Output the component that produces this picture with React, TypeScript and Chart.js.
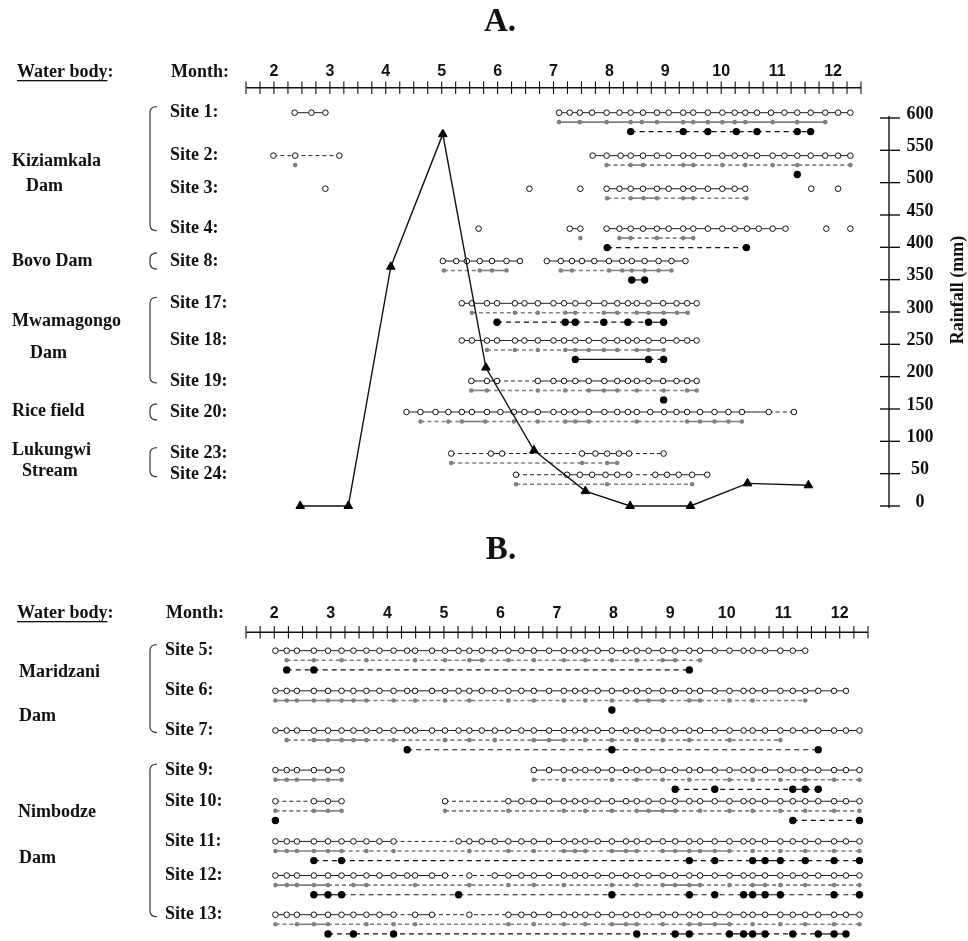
import { useEffect, useRef } from 'react';
import { Chart, registerables } from 'chart.js';

Chart.register(...registerables);

// ---------------- data ----------------
const MONTH_LABELS = [2, 3, 4, 5, 6, 7, 8, 9, 10, 11, 12];
const RAIN_TICKS = [0, 50, 100, 150, 200, 250, 300, 350, 400, 450, 500, 550, 600];
const RAIN_MONTH = [2.47, 3.33, 4.09, 5.02, 5.79, 6.65, 7.57, 8.37, 9.45, 10.47, 11.56];
const RAIN_MM = [0, 0, 370, 575, 214, 86, 23, 0, 0, 35, 32];

const A_SITE_LABELS = ['Site 1:', 'Site 2:', 'Site 3:', 'Site 4:', 'Site 8:', 'Site 17:', 'Site 18:', 'Site 19:', 'Site 20:', 'Site 23:', 'Site 24:'];
const B_SITE_LABELS = ['Site 5:', 'Site 6:', 'Site 7:', 'Site 9:', 'Site 10:', 'Site 11:', 'Site 12:', 'Site 13:'];

// links: one char per connection between consecutive points: s = solid, d = dashed, _ = none (missing = solid)
const A_SITE_1 = {
  open: { x: [2.37, 2.67, 2.92, 7.10, 7.29, 7.47, 7.69, 7.95, 8.18, 8.38, 8.60, 8.85, 9.06, 9.32, 9.50, 9.76, 10.02, 10.24, 10.43, 10.64, 10.89, 11.13, 11.36, 11.60, 11.86, 12.09, 12.31], links: 'ss_' },
  grey: { x: [7.10, 7.47, 7.95, 8.38, 8.58, 8.85, 9.32, 9.50, 9.76, 10.02, 10.24, 10.43, 10.92, 11.36, 11.86], links: '' },
  black: { x: [8.38, 9.32, 9.76, 10.27, 10.64, 11.36, 11.60], links: 'dddddd' },
};
const A_SITE_2 = {
  open: { x: [1.99, 2.38, 3.17, 7.70, 7.95, 8.20, 8.38, 8.60, 8.85, 9.06, 9.32, 9.50, 9.76, 10.02, 10.24, 10.43, 10.64, 10.92, 11.13, 11.36, 11.60, 11.86, 12.09, 12.31], links: 'dd_' },
  grey: { x: [2.38, 7.95, 8.38, 8.60, 9.32, 9.50, 10.02, 10.43, 10.92, 11.36, 12.31], links: '_dsdsddddd' },
  black: { x: [11.36], links: '' },
};
const A_SITE_3 = {
  open: { x: [2.92, 6.57, 7.48, 7.95, 8.18, 8.38, 8.60, 8.85, 9.06, 9.32, 9.50, 9.76, 10.02, 10.24, 10.43, 11.61, 12.09], links: '___sssssssssss__' },
  grey: { x: [7.96, 8.38, 8.61, 8.85, 9.32, 9.50, 10.45], links: 'dssdsd' },
  black: { x: [], links: '' },
};
const A_SITE_4 = {
  open: { x: [5.66, 7.29, 7.48, 7.95, 8.18, 8.38, 8.60, 8.85, 9.06, 9.32, 9.50, 9.76, 10.02, 10.24, 10.46, 10.67, 10.92, 11.15, 11.88, 12.31], links: '_s_ssssssssssssss__' },
  grey: { x: [7.48, 8.18, 8.38, 8.85, 9.32, 9.50], links: '_sdds' },
  black: { x: [7.96, 10.45], links: 'd' },
};
const A_SITE_8 = {
  open: { x: [5.02, 5.26, 5.45, 5.68, 5.90, 6.16, 6.40, 6.88, 7.13, 7.33, 7.51, 7.73, 7.99, 8.23, 8.40, 8.63, 8.88, 9.11, 9.36], links: 'ssssss_' },
  grey: { x: [5.04, 5.68, 5.90, 6.16, 7.13, 7.33, 7.99, 8.23, 8.40, 8.63, 8.88, 9.11], links: 'dss_sd' },
  black: { x: [8.40, 8.63], links: 's' },
};
const A_SITE_17 = {
  open: { x: [5.36, 5.54, 5.81, 5.99, 6.31, 6.48, 6.72, 7.00, 7.19, 7.39, 7.63, 7.91, 8.14, 8.33, 8.49, 8.70, 8.96, 9.20, 9.39, 9.56], links: '' },
  grey: { x: [5.54, 6.31, 6.72, 7.21, 7.39, 7.90, 8.14, 8.49, 8.70, 8.97, 9.21, 9.40], links: 'dddsdsdssss' },
  black: { x: [5.99, 7.21, 7.39, 7.90, 8.33, 8.70, 8.97], links: 'dsddds' },
};
const A_SITE_18 = {
  open: { x: [5.36, 5.54, 5.81, 5.99, 6.31, 6.48, 6.72, 7.00, 7.19, 7.39, 7.63, 7.91, 8.14, 8.33, 8.49, 8.70, 8.96, 9.20, 9.39, 9.56], links: '' },
  grey: { x: [5.81, 6.31, 6.72, 7.21, 7.39, 7.63, 7.90, 8.14, 8.49, 8.70, 8.97], links: 'dddssssdss' },
  black: { x: [7.39, 8.70, 8.97], links: 'sd' },
};
const A_SITE_19 = {
  open: { x: [5.53, 5.81, 5.99, 6.72, 7.00, 7.19, 7.39, 7.63, 7.91, 8.14, 8.33, 8.49, 8.70, 8.96, 9.20, 9.39, 9.56], links: 'ssd' },
  grey: { x: [5.53, 5.81, 6.72, 7.21, 7.63, 7.90, 8.14, 8.49, 8.97, 9.39, 9.56], links: 'sdddssddds' },
  black: { x: [8.97], links: '' },
};
const A_SITE_20 = {
  open: { x: [4.37, 4.62, 4.89, 5.12, 5.36, 5.54, 5.81, 6.05, 6.29, 6.48, 6.72, 7.00, 7.19, 7.39, 7.63, 7.91, 8.14, 8.33, 8.49, 8.73, 8.98, 9.20, 9.39, 9.62, 9.88, 10.13, 10.37, 10.85, 11.30], links: 'sssssssss' + 'sssssssss' + 'sssssssss' + 'd' },
  grey: { x: [4.62, 5.12, 5.36, 5.78, 6.29, 6.72, 7.21, 7.39, 7.63, 8.49, 9.39, 9.62, 9.88, 10.13, 10.37], links: 'ddsdddssddssss' },
  black: { x: [], links: '' },
};
const A_SITE_23 = {
  open: { x: [5.17, 5.88, 6.08, 7.51, 7.75, 7.96, 8.17, 8.35, 8.97], links: 'dsdssssd' },
  grey: { x: [5.17, 7.51, 7.96, 8.14], links: 'dds' },
  black: { x: [], links: '' },
};
const A_SITE_24 = {
  open: { x: [6.33, 7.24, 7.47, 7.69, 7.93, 8.14, 8.35, 8.82, 9.03, 9.24, 9.48, 9.75], links: 'dsssssdssss' },
  grey: { x: [6.33, 7.96, 9.48], links: 'dd' },
  black: { x: [], links: '' },
};

const B_SITE_5 = {
  open: { x: [2.02, 2.22, 2.40, 2.70, 2.95, 3.19, 3.40, 3.63, 3.86, 4.11, 4.35, 4.49, 4.79, 5.02, 5.26, 5.45, 5.67, 5.90, 6.14, 6.37, 6.59, 6.86, 7.12, 7.32, 7.50, 7.72, 7.97, 8.22, 8.41, 8.62, 8.87, 9.09, 9.34, 9.53, 9.79, 10.05, 10.30, 10.46, 10.68, 10.95, 11.17, 11.39], links: '' },
  grey: { x: [2.22, 2.70, 3.19, 3.63, 4.49, 5.02, 5.45, 5.67, 6.14, 6.59, 7.12, 7.50, 7.97, 8.41, 8.87, 9.09, 9.53], links: 'ddddddsdddddddsd' },
  black: { x: [2.22, 2.70, 9.34], links: 'dd' },
};
const B_SITE_6 = {
  open: { x: [2.02, 2.22, 2.40, 2.70, 2.95, 3.19, 3.40, 3.63, 3.86, 4.11, 4.35, 4.49, 4.79, 5.02, 5.26, 5.45, 5.67, 5.90, 6.14, 6.37, 6.59, 6.86, 7.12, 7.32, 7.50, 7.72, 7.97, 8.22, 8.41, 8.62, 8.87, 9.09, 9.34, 9.53, 9.79, 10.05, 10.30, 10.46, 10.68, 10.95, 11.17, 11.39, 11.62, 11.90, 12.11], links: '' },
  grey: { x: [2.02, 2.22, 2.40, 2.70, 2.95, 3.19, 3.40, 3.63, 4.11, 4.49, 5.02, 5.45, 6.14, 6.59, 7.12, 7.50, 7.97, 8.41, 8.62, 8.87, 9.34, 9.53, 10.05, 10.46, 11.39], links: 'sssssssddddddddddssdsddd' },
  black: { x: [7.97], links: '' },
};
const B_SITE_7 = {
  open: { x: [2.02, 2.22, 2.40, 2.70, 2.95, 3.19, 3.40, 3.63, 3.86, 4.11, 4.35, 4.49, 4.79, 5.02, 5.26, 5.45, 5.67, 5.90, 6.14, 6.37, 6.59, 6.86, 7.12, 7.32, 7.50, 7.72, 7.97, 8.22, 8.41, 8.62, 8.87, 9.09, 9.34, 9.53, 9.79, 10.05, 10.30, 10.46, 10.68, 10.95, 11.17, 11.39, 11.62, 11.90, 12.11, 12.35], links: '' },
  grey: { x: [2.22, 2.70, 2.95, 3.19, 3.40, 3.63, 4.11, 5.02, 5.45, 5.90, 6.59, 6.86, 7.12, 7.50, 7.97, 8.41, 8.87, 9.34, 10.05, 10.95], links: 'dssssdddddssddddddd' },
  black: { x: [4.35, 7.97, 11.62], links: 'dd' },
};
const B_SITE_9 = {
  open: { x: [2.02, 2.22, 2.40, 2.70, 2.95, 3.19, 6.59, 6.86, 7.12, 7.32, 7.50, 7.72, 7.97, 8.22, 8.41, 8.62, 8.87, 9.09, 9.34, 9.53, 9.79, 10.05, 10.30, 10.46, 10.68, 10.95, 11.17, 11.39, 11.62, 11.90, 12.11, 12.35], links: 'sssss_' },
  grey: { x: [2.02, 2.22, 2.40, 2.70, 2.95, 3.19, 6.59, 7.12, 7.97, 8.41, 8.87, 9.34, 10.05, 10.46, 10.95, 11.39, 11.90, 12.35], links: 'sssss_ddddddddddd' },
  black: { x: [9.09, 9.79, 11.17, 11.39, 11.62], links: 'ddsd' },
};
const B_SITE_10 = {
  open: { x: [2.02, 2.70, 2.95, 3.19, 5.02, 6.14, 6.37, 6.59, 6.86, 7.12, 7.32, 7.50, 7.72, 7.97, 8.22, 8.41, 8.62, 8.87, 9.09, 9.34, 9.53, 9.79, 10.05, 10.30, 10.46, 10.68, 10.95, 11.17, 11.39, 11.62, 11.90, 12.11, 12.35], links: 'dss_d' },
  grey: { x: [2.02, 2.70, 2.95, 3.19, 5.02, 6.14, 7.12, 7.50, 7.97, 8.41, 8.62, 8.87, 9.09, 9.53, 10.05, 10.46, 10.95, 11.39, 11.90, 12.35], links: 'dss_dddddsssddddddd' },
  black: { x: [2.02, 11.17, 12.35], links: '_d' },
};
const B_SITE_11 = {
  open: { x: [2.02, 2.22, 2.40, 2.70, 2.95, 3.19, 3.40, 3.63, 3.86, 4.11, 5.26, 5.45, 5.67, 5.90, 6.14, 6.37, 6.59, 6.86, 7.12, 7.32, 7.50, 7.72, 7.97, 8.22, 8.41, 8.62, 8.87, 9.09, 9.34, 9.53, 9.79, 10.05, 10.30, 10.46, 10.68, 10.95, 11.17, 11.39, 11.62, 11.90, 12.11, 12.35], links: 'sssssssssd' },
  grey: { x: [2.02, 2.22, 2.40, 2.70, 2.95, 3.19, 3.63, 4.11, 5.45, 6.14, 6.59, 7.12, 7.32, 7.50, 7.97, 8.22, 8.41, 8.87, 9.09, 9.34, 9.53, 9.79, 10.05, 10.46, 10.95, 11.39, 11.90, 12.35], links: 'sssssddddddssdssdsssssddddd' },
  black: { x: [2.70, 3.19, 9.34, 9.79, 10.46, 10.68, 10.95, 11.39, 11.90, 12.35], links: 'ddddssddd' },
};
const B_SITE_12 = {
  open: { x: [2.02, 2.22, 2.40, 2.70, 2.95, 3.19, 3.40, 3.63, 3.86, 4.11, 4.35, 4.49, 4.79, 5.02, 5.45, 5.90, 6.14, 6.37, 6.59, 6.86, 7.12, 7.32, 7.50, 7.72, 7.97, 8.22, 8.41, 8.62, 8.87, 9.09, 9.34, 9.53, 9.79, 10.05, 10.30, 10.46, 10.68, 10.95, 11.17, 11.39, 11.62, 11.90, 12.11, 12.35], links: 'sssssssssssssdd' },
  grey: { x: [2.02, 2.22, 2.40, 2.70, 2.95, 3.40, 3.63, 4.49, 5.45, 6.14, 6.59, 7.12, 7.97, 8.41, 8.87, 9.09, 9.34, 9.53, 10.05, 10.46, 10.68, 10.95, 11.39, 11.90, 12.35], links: 'ssssdsddddddddsssddsdddd' },
  black: { x: [2.70, 2.95, 3.19, 5.26, 7.97, 9.34, 9.79, 10.30, 10.46, 10.68, 10.95, 11.90, 12.35], links: 'ssdddddsssdd' },
};
const B_SITE_13 = {
  open: { x: [2.02, 2.22, 2.40, 2.70, 2.95, 3.19, 3.40, 3.63, 3.86, 4.11, 4.49, 4.79, 5.45, 6.14, 6.37, 6.59, 6.86, 7.12, 7.32, 7.50, 7.72, 7.97, 8.22, 8.41, 8.62, 8.87, 9.09, 9.34, 9.53, 9.79, 10.05, 10.30, 10.46, 10.68, 10.95, 11.17, 11.39, 11.62, 11.90, 12.11, 12.35], links: 'sssssssssdsdd' },
  grey: { x: [2.02, 2.40, 2.70, 2.95, 3.63, 4.11, 4.49, 6.14, 6.59, 7.12, 7.50, 7.97, 8.22, 8.41, 8.87, 9.34, 9.53, 9.79, 10.05, 10.46, 10.95, 11.39, 11.90, 12.35], links: 'dssddddddddssddsssddddd' },
  black: { x: [2.95, 3.40, 4.11, 8.41, 9.09, 9.34, 10.05, 10.30, 10.46, 10.68, 11.17, 11.62, 11.90, 12.11], links: 'ddddsdsssddss' },
};

const A_SITES = [A_SITE_1, A_SITE_2, A_SITE_3, A_SITE_4, A_SITE_8, A_SITE_17, A_SITE_18, A_SITE_19, A_SITE_20, A_SITE_23, A_SITE_24];
const B_SITES = [B_SITE_5, B_SITE_6, B_SITE_7, B_SITE_9, B_SITE_10, B_SITE_11, B_SITE_12, B_SITE_13];

const A_WATER_BODIES = [
  { lines: ['Kiziamkala', 'Dam'], first: 0, last: 3 },
  { lines: ['Bovo Dam'], first: 4, last: 4 },
  { lines: ['Mwamagongo', 'Dam'], first: 5, last: 7 },
  { lines: ['Rice field'], first: 8, last: 8 },
  { lines: ['Lukungwi', 'Stream'], first: 9, last: 10 },
];
const B_WATER_BODIES = [
  { lines: ['Maridzani', 'Dam'], first: 0, last: 2 },
  { lines: ['Nimbodze', 'Dam'], first: 3, last: 7 },
];

// ---------------- layout ----------------
const A_ROW_POS = [1.34, 5.88, 9.38, 13.6, 17.02, 21.49, 25.42, 29.7, 32.98, 37.37, 39.61];
const B_ROW_POS = [0.59, 4.77, 8.9, 13.02, 16.26, 20.44, 23.99, 28.07];
const A_BODY_TEXT_POS = [[[12, 161], [26, 186]], [[12, 261]], [[12, 321], [30, 353]], [[12, 411]], [[12, 450], [22, 471]]];
const B_BODY_TEXT_POS = [[[19, 152], [19, 196]], [[18, 292], [19, 338]]];

const SERIF = '"Liberation Serif", "Times New Roman", serif';
const SANS = '"Liberation Sans", Arial, sans-serif';
const INK = '#111';

const TRACK_STYLE: any = {
  open: { line: '#222', width: 1, radius: 2.8, fill: '#ffffff', stroke: '#111', strokeW: 1, dash: [4, 3], offset: 0 },
  grey: { line: '#808080', width: 1.6, radius: 2.3, fill: '#808080', stroke: '#808080', strokeW: 0, dash: [4, 3], offset: 1 },
  black: { line: '#111', width: 1.2, radius: 3.7, fill: '#000', stroke: '#000', strokeW: 0, dash: [5, 4], offset: 2 },
};

function trackDataset(track: any, rowY: number, kind: string) {
  const s = TRACK_STYLE[kind];
  const links: string = track.links;
  return {
    type: 'line',
    data: track.x.map((x: number) => ({ x, y: rowY + s.offset })),
    xAxisID: 'x',
    yAxisID: 'yRows',
    borderColor: s.line,
    borderWidth: s.width,
    pointRadius: s.radius,
    pointHoverRadius: s.radius,
    pointBackgroundColor: s.fill,
    pointBorderColor: s.stroke,
    pointBorderWidth: s.strokeW,
    tension: 0,
    fill: false,
    clip: false,
    segment: {
      borderDash: (c: any) => (links[c.p0DataIndex] === 'd' ? s.dash : undefined),
      borderColor: (c: any) => (links[c.p0DataIndex] === '_' ? 'rgba(0,0,0,0)' : undefined),
    },
  };
}

function siteDatasets(sites: any[], rowPos: number[]) {
  const out: any[] = [];
  sites.forEach((site, i) => {
    out.push(trackDataset(site.open, rowPos[i], 'open'));
    out.push(trackDataset(site.grey, rowPos[i], 'grey'));
    out.push(trackDataset(site.black, rowPos[i], 'black'));
  });
  return out;
}

function bracket(ctx: CanvasRenderingContext2D, x: number, top: number, bottom: number) {
  const c = 6;
  ctx.beginPath();
  ctx.moveTo(x + 7, top);
  ctx.quadraticCurveTo(x, top, x, top + c);
  ctx.lineTo(x, bottom - c);
  ctx.quadraticCurveTo(x, bottom, x + 7, bottom);
  ctx.stroke();
}

function decorPlugin(p: any) {
  return {
    id: 'decor' + p.title,
    afterDraw(chart: any) {
      const ctx: CanvasRenderingContext2D = chart.ctx;
      const xs = chart.scales.x;
      const rows = chart.scales.yRows;
      ctx.save();
      ctx.fillStyle = INK;
      ctx.strokeStyle = INK;
      ctx.textBaseline = 'middle';

      ctx.font = `bold 33px ${SERIF}`;
      ctx.textAlign = 'center';
      ctx.fillText(p.title, p.titleX, p.titleY);

      ctx.font = `bold 18px ${SERIF}`;
      ctx.textAlign = 'left';
      ctx.fillText('Water body:', 17, p.headerY);
      const uw = ctx.measureText('Water body').width;
      ctx.fillRect(17, p.headerY + 8, uw, 1.3);
      ctx.fillText('Month:', p.monthTitleX, p.headerY);

      const x0 = xs.getPixelForValue(p.axisMin);
      const x1 = xs.getPixelForValue(p.axisMax);
      ctx.lineWidth = 1.4;
      ctx.beginPath();
      ctx.moveTo(x0, p.axisY);
      ctx.lineTo(x1, p.axisY);
      ctx.stroke();
      ctx.lineWidth = 1.1;
      for (let v = p.axisMin; v <= p.axisMax + 1e-6; v += 0.25) {
        const px = xs.getPixelForValue(v);
        ctx.beginPath();
        ctx.moveTo(px, p.axisY - 6.3);
        ctx.lineTo(px, p.axisY + 6.3);
        ctx.stroke();
      }
      ctx.font = `bold 16px ${SANS}`;
      ctx.textAlign = 'center';
      MONTH_LABELS.forEach((m) => ctx.fillText(String(m), xs.getPixelForValue(m), p.monthLabelY));

      ctx.font = `bold 18px ${SERIF}`;
      ctx.textAlign = 'left';
      p.siteLabels.forEach((lab: string, i: number) => {
        ctx.fillText(lab, p.siteLabelX, rows.getPixelForValue(p.rowPos[i]));
      });

      ctx.strokeStyle = '#444';
      ctx.lineWidth = 1.3;
      p.bodies.forEach((b: any, bi: number) => {
        const yf = rows.getPixelForValue(p.rowPos[b.first]);
        const yl = rows.getPixelForValue(p.rowPos[b.last]);
        const top = b.first === b.last ? yf - 8 : yf - 6;
        const bottom = b.first === b.last ? yl + 8 : yl + 2;
        bracket(ctx, p.bracketX, top, bottom);
        b.lines.forEach((t: string, li: number) => {
          const pos = p.bodyTextPos[bi][li];
          ctx.fillText(t, pos[0], pos[1]);
        });
      });

      if (p.rain) {
        const rs = chart.scales.yRain;
        const r = p.rain;
        ctx.strokeStyle = INK;
        ctx.lineWidth = 1.4;
        ctx.beginPath();
        ctx.moveTo(r.x, rs.getPixelForValue(600) - 2);
        ctx.lineTo(r.x, rs.getPixelForValue(0) + 2);
        ctx.stroke();
        ctx.font = `bold 18px ${SERIF}`;
        ctx.textAlign = 'center';
        RAIN_TICKS.forEach((t) => {
          const py = rs.getPixelForValue(t);
          ctx.beginPath();
          ctx.moveTo(r.x - 9, py);
          ctx.lineTo(r.x + 11, py);
          ctx.stroke();
          ctx.fillText(String(t), r.labelX, py - 4);
        });
        ctx.save();
        ctx.translate(r.titleX, r.titleY);
        ctx.rotate(-Math.PI / 2);
        ctx.fillText('Rainfall (mm)', 0, 0);
        ctx.restore();
      }
      ctx.restore();
    },
  };
}

const PANEL_A = {
  title: 'A.', titleX: 500, titleY: 22,
  headerY: 72, monthTitleX: 171, axisY: 87.7, monthLabelY: 72, axisMin: 1.5, axisMax: 12.5,
  siteLabelX: 170, bracketX: 150,
  rowPos: A_ROW_POS, siteLabels: A_SITE_LABELS, bodies: A_WATER_BODIES, bodyTextPos: A_BODY_TEXT_POS,
  rain: { x: 889, labelX: 920, titleX: 958, titleY: 290 },
};
const PANEL_B = {
  title: 'B.', titleX: 501, titleY: 30,
  headerY: 93, monthTitleX: 166, axisY: 112.3, monthLabelY: 94, axisMin: 1.5, axisMax: 12.5,
  siteLabelX: 165, bracketX: 150,
  rowPos: B_ROW_POS, siteLabels: B_SITE_LABELS, bodies: B_WATER_BODIES, bodyTextPos: B_BODY_TEXT_POS,
  rain: null,
};

function configA(): any {
  const rainDs = {
    type: 'line',
    data: RAIN_MONTH.map((m, i) => ({ x: m, y: RAIN_MM[i] })),
    xAxisID: 'x',
    yAxisID: 'yRain',
    borderColor: '#111',
    borderWidth: 1.4,
    pointStyle: 'triangle',
    pointRadius: 5,
    pointHoverRadius: 5,
    pointBackgroundColor: '#000',
    pointBorderColor: '#000',
    pointBorderWidth: 1,
    tension: 0,
    fill: false,
    clip: false,
  };
  return {
    type: 'line',
    data: { datasets: [rainDs, ...siteDatasets(A_SITES, A_ROW_POS)] },
    options: {
      responsive: false,
      animation: false,
      events: [],
      layout: { padding: { left: 246, right: 107, top: 100, bottom: 8 } },
      plugins: { legend: { display: false }, tooltip: { enabled: false } },
      scales: {
        x: { type: 'linear', axis: 'x', position: 'bottom', min: 1.5, max: 12.5, display: false },
        yRows: { type: 'linear', axis: 'y', position: 'left', min: 0, max: 43.55, reverse: true, display: false },
        yRain: { type: 'linear', axis: 'y', position: 'right', min: -9.28, max: 627.8, display: false },
      },
    },
    plugins: [decorPlugin(PANEL_A)],
  };
}

function configB(): any {
  return {
    type: 'line',
    data: { datasets: siteDatasets(B_SITES, B_ROW_POS) },
    options: {
      responsive: false,
      animation: false,
      events: [],
      layout: { padding: { left: 246, right: 100, top: 125, bottom: 1 } },
      plugins: { legend: { display: false }, tooltip: { enabled: false } },
      scales: {
        x: { type: 'linear', axis: 'x', position: 'bottom', min: 1.5, max: 12.5, display: false },
        yRows: { type: 'linear', axis: 'y', position: 'left', min: 0, max: 30.41, reverse: true, display: false },
      },
    },
    plugins: [decorPlugin(PANEL_B)],
  };
}

export default function App() {
  const refA = useRef<HTMLCanvasElement>(null);
  const refB = useRef<HTMLCanvasElement>(null);
  useEffect(() => {
    document.body.style.margin = '0';
    document.body.style.overflow = 'hidden';
    const a = new Chart(refA.current as HTMLCanvasElement, configA());
    const b = new Chart(refB.current as HTMLCanvasElement, configB());
    return () => {
      a.destroy();
      b.destroy();
    };
  }, []);
  return (
    <div style={{ width: 968, height: 941, background: '#fff', overflow: 'hidden' }}>
      <canvas ref={refA} width={968} height={520} style={{ display: 'block', width: 968, height: 520 }} />
      <canvas ref={refB} width={968} height={421} style={{ display: 'block', width: 968, height: 421 }} />
    </div>
  );
}
